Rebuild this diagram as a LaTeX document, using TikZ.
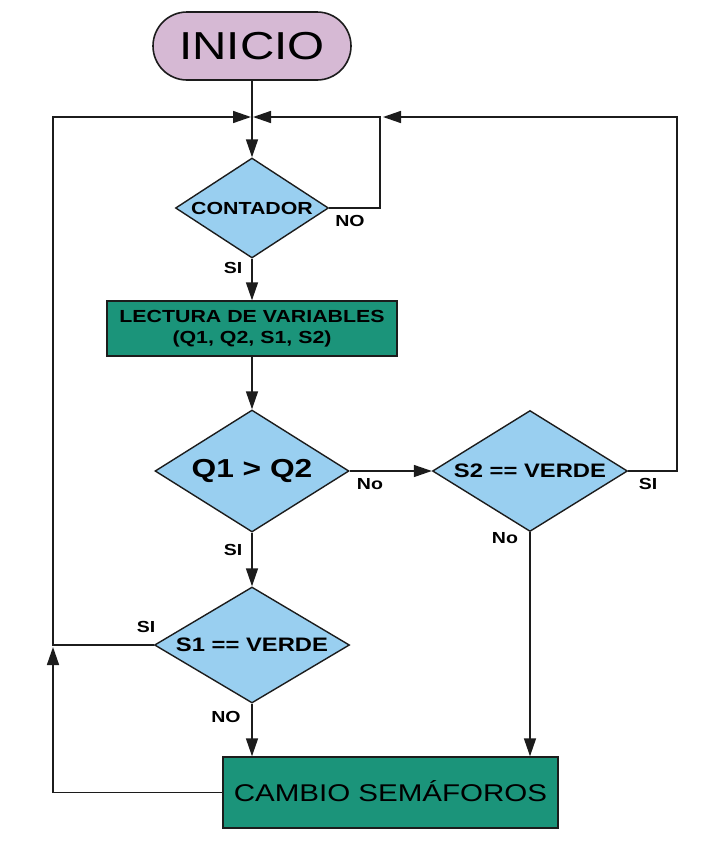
\documentclass[tikz,border=0pt]{standalone}
\usepackage{fontspec}
\setmainfont{Liberation Sans}[FakeStretch=1.22]
\usetikzlibrary{shapes.geometric,arrows.meta}

\definecolor{iniciofill}{RGB}{214,185,212}
\definecolor{decfill}{RGB}{153,207,240}
\definecolor{procfill}{RGB}{27,148,122}
\definecolor{edge}{RGB}{28,28,28}

\tikzset{
  start/.style={rectangle, rounded corners=34pt, draw=edge, line width=1.6pt,
    fill=iniciofill, minimum width=198pt, minimum height=68pt, inner sep=0pt,
    font=\fontsize{39}{44}\selectfont},
  dec/.style={diamond, shape aspect=1.6, draw=edge, line width=1.4pt, fill=decfill,
    inner sep=0pt},
  proc/.style={rectangle, draw=edge, line width=1.4pt, fill=procfill, inner sep=0pt,
    align=center},
  lbl/.style={inner sep=0pt, font=\bfseries\fontsize{16}{18}\selectfont},
  flow/.style={draw=edge, line width=1.5pt, -{Triangle[length=18pt,width=12pt]}},
  plain/.style={draw=edge, line width=1.5pt}
}

\begin{document}
\begin{tikzpicture}[x=1pt,y=-1pt]
\useasboundingbox (0,0) rectangle (706,857);

\coordinate (p1) at (380,117);
\coordinate (p2) at (677,117);
\coordinate (p3) at (53,117);
\coordinate (p4) at (53,647);
\coordinate (jL) at (251,117);
\coordinate (jR) at (253,117);

\node[start] (inicio) at (252,46) {INICIO};
\node[dec, minimum width=153pt, minimum height=100pt,
  font=\bfseries\fontsize{17.5}{20}\selectfont] (contador) at (252,208) {CONTADOR};
\node[proc, minimum width=290pt, minimum height=55pt,
  font=\bfseries\fontsize{17.5}{21}\selectfont] (lectura) at (252,328.5)
  {LECTURA DE VARIABLES\\(Q1, Q2, S1, S2)};
\node[dec, minimum width=194pt, minimum height=122pt,
  font=\bfseries\fontsize{26}{30}\selectfont] (q) at (252,471) {Q1 > Q2};
\node[dec, minimum width=195pt, minimum height=121pt,
  font=\bfseries\fontsize{19.5}{23}\selectfont] (s2) at (530,471) {S2 == VERDE};
\node[dec, minimum width=195pt, minimum height=116pt,
  font=\bfseries\fontsize{19.5}{23}\selectfont] (s1) at (252,645) {S1 == VERDE};
\node[proc, minimum width=335pt, minimum height=71pt, text height=17.5pt, text depth=0pt,
  font=\fontsize{24.2}{28}\selectfont] (cambio) at (390.5,792.5) {CAMBIO SEMÁFOROS};

\draw[flow] (inicio) -- (contador);
\draw[flow] (contador) -- (lectura);
\draw[flow] (lectura) -- (q);
\draw[flow] (q) -- (s1);
\draw[flow] (q) -- (s2);
\draw[flow] (s1.south) -- (s1.south |- cambio.north);
\draw[flow] (s2.south) -- (s2.south |- cambio.north);

\draw[flow] (contador.east) -| (p1) -- (jR);
\draw[flow, shorten >=3pt] (s2.east) -| (p2) -- (p1);
\draw[flow] (s1.west) -| (p3) -- (jL);
\draw[flow] (cambio.west) -| (p4);

\node[lbl] (l1) at (350,221) {NO};
\node[lbl] (l2) at (233,268) {SI};
\node[lbl] (l3) at (370,484) {No};
\node[lbl] (l4) at (233,550) {SI};
\node[lbl] (l5) at (648,484) {SI};
\node[lbl] (l6) at (505,538) {No};
\node[lbl] (l7) at (146,627) {SI};
\node[lbl] (l8) at (226,717) {NO};
\end{tikzpicture}
\end{document}
